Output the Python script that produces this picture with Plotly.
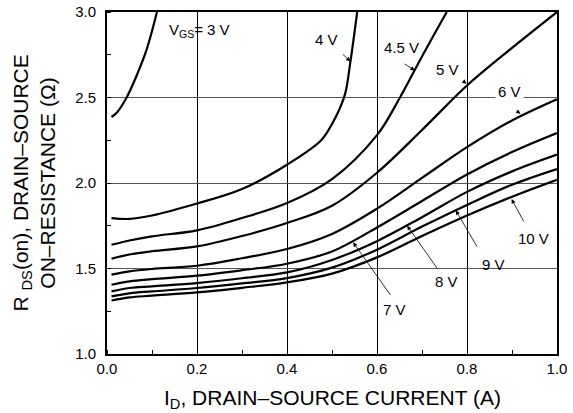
import plotly.graph_objects as go

# ---- data ----
id_3v = [0.01, 0.021, 0.043, 0.065, 0.088, 0.111]
r_3v = [2.386, 2.409, 2.497, 2.623, 2.78, 3.0]

id_4v = [0.01, 0.05, 0.1, 0.2, 0.3, 0.4, 0.476, 0.5, 0.518, 0.53, 0.541, 0.556]
r_4v = [1.795, 1.79, 1.81, 1.88, 1.965, 2.107, 2.25, 2.345, 2.44, 2.53, 2.711, 3.0]

id_45v = [0.01, 0.05, 0.1, 0.2, 0.3, 0.4, 0.5, 0.6, 0.651, 0.7, 0.755]
r_45v = [1.639, 1.664, 1.688, 1.723, 1.795, 1.883, 2.023, 2.28, 2.5, 2.74, 3.0]

id_std = [0.01, 0.05, 0.1, 0.2, 0.3, 0.4, 0.5, 0.6, 0.7, 0.8, 0.9, 1.0]
r_5v = [1.557, 1.582, 1.601, 1.629, 1.69, 1.766, 1.867, 2.06, 2.31, 2.57, 2.79, 3.0]
r_6v = [1.464, 1.483, 1.497, 1.516, 1.56, 1.614, 1.702, 1.85, 2.03, 2.21, 2.366, 2.49]
r_7v = [1.405, 1.425, 1.438, 1.458, 1.49, 1.528, 1.60, 1.74, 1.895, 2.05, 2.181, 2.292]
r_8v = [1.366, 1.386, 1.396, 1.415, 1.443, 1.477, 1.55, 1.66, 1.80, 1.948, 2.068, 2.166]
r_9v = [1.337, 1.355, 1.366, 1.386, 1.413, 1.444, 1.505, 1.61, 1.745, 1.872, 1.99, 2.082]
r_10v = [1.313, 1.331, 1.341, 1.360, 1.387, 1.419, 1.47, 1.565, 1.69, 1.81, 1.92, 2.019]

x_ticks = [0.0, 0.2, 0.4, 0.6, 0.8, 1.0]
x_tick_labels = ["0.0", "0.2", "0.4", "0.6", "0.8", "1.0"]
y_ticks = [1.0, 1.5, 2.0, 2.5, 3.0]
y_tick_labels = ["1.0", "1.5", "2.0", "2.5", "3.0"]

# label text, text position (x, y), arrow tail (x, y), arrow head (x, y)
labels = [
    ("4 V", 0.4876, 2.838, 0.521, 2.760, 0.541, 2.711),
    ("4.5 V", 0.654, 2.791, 0.658, 2.702, 0.684, 2.658),
    ("5 V", 0.757, 2.663, 0.788, 2.604, 0.799, 2.580),
    ("6 V", 0.895, 2.536, 0.906, 2.429, 0.919, 2.405),
    ("7 V", 0.639, 1.259, 0.632, 1.337, 0.547, 1.653),
    ("8 V", 0.754, 1.425, 0.736, 1.493, 0.667, 1.750),
    ("9 V", 0.858, 1.522, 0.824, 1.620, 0.775, 1.840),
    ("10 V", 0.947, 1.673, 0.928, 1.766, 0.899, 1.906),
]

FONT = "Liberation Sans, Arial, Helvetica, sans-serif"

fig = go.Figure()
series = [
    (id_3v, r_3v), (id_4v, r_4v), (id_45v, r_45v),
    (id_std, r_5v), (id_std, r_6v), (id_std, r_7v),
    (id_std, r_8v), (id_std, r_9v), (id_std, r_10v),
]
for xs, ys in series:
    fig.add_trace(go.Scatter(
        x=xs, y=ys, mode="lines",
        line=dict(color="black", width=2.2, shape="spline", smoothing=1.0),
        showlegend=False, hoverinfo="skip", cliponaxis=True,
    ))

annotations = []
annotations.append(dict(
    x=0.206, y=2.891, xref="x", yref="y", text="V<sub>GS</sub>= 3 V",
    showarrow=False, font=dict(family=FONT, size=15, color="black"),
))
for txt, tx, ty, ax_, ay_, hx, hy in labels:
    annotations.append(dict(
        x=hx, y=hy, ax=ax_, ay=ay_, xref="x", yref="y", axref="x", ayref="y",
        text="", showarrow=True, arrowhead=2, arrowsize=1.1, arrowwidth=0.8,
        arrowcolor="black", standoff=0, startstandoff=0,
    ))
    annotations.append(dict(
        x=tx, y=ty, xref="x", yref="y", text=txt, showarrow=False,
        font=dict(family=FONT, size=15, color="black"),
        bgcolor="white" if txt == "6 V" else "rgba(0,0,0,0)",
        borderpad=2,
    ))

annotations.append(dict(
    x=-0.19, y=0.5, xref="paper", yref="paper",
    text="R <sub>DS</sub>(on), DRAIN–SOURCE",
    textangle=-90, showarrow=False, xanchor="center", yanchor="middle",
    font=dict(family=FONT, size=21, color="black"),
))
annotations.append(dict(
    x=-0.134, y=0.5, xref="paper", yref="paper",
    text="ON–RESISTANCE (Ω)",
    textangle=-90, showarrow=False, xanchor="center", yanchor="middle",
    font=dict(family=FONT, size=21, color="black"),
))
annotations.append(dict(
    x=0.5, y=-0.131, xref="paper", yref="paper",
    text="I<sub>D</sub>, DRAIN–SOURCE CURRENT (A)",
    showarrow=False, xanchor="center", yanchor="middle",
    font=dict(family=FONT, size=21, color="black"),
))

fig.update_layout(
    width=573, height=413, autosize=False,
    margin=dict(l=107, r=16, t=12, b=59, autoexpand=False),
    paper_bgcolor="white", plot_bgcolor="white",
    annotations=annotations,
    font=dict(family=FONT, size=15, color="black"),
    xaxis=dict(
        range=[0, 1], tickvals=x_ticks, ticktext=x_tick_labels,
        showgrid=True, gridcolor="black", gridwidth=1,
        showline=True, linecolor="black", linewidth=2, mirror=True,
        ticks="", zeroline=False, automargin=False,
        minor=dict(dtick=0.1, tick0=0, ticks="inside", ticklen=4, tickcolor="black", tickwidth=1, showgrid=False),
        tickfont=dict(family=FONT, size=15, color="black"),
    ),
    yaxis=dict(
        range=[1, 3], tickvals=y_ticks, ticktext=y_tick_labels,
        showgrid=True, gridcolor="#555555", gridwidth=1,
        showline=True, linecolor="black", linewidth=2, mirror=True,
        ticks="", zeroline=False, ticklabelstandoff=6, automargin=False,
        minor=dict(dtick=0.25, tick0=0, ticks="inside", ticklen=4, tickcolor="black", tickwidth=1, showgrid=False),
        tickfont=dict(family=FONT, size=15, color="black"),
    ),
)

fig.write_html(
    "out.html",
    config={"responsive": False, "displayModeBar": False},
    post_script="document.body.style.margin='0';",
)
